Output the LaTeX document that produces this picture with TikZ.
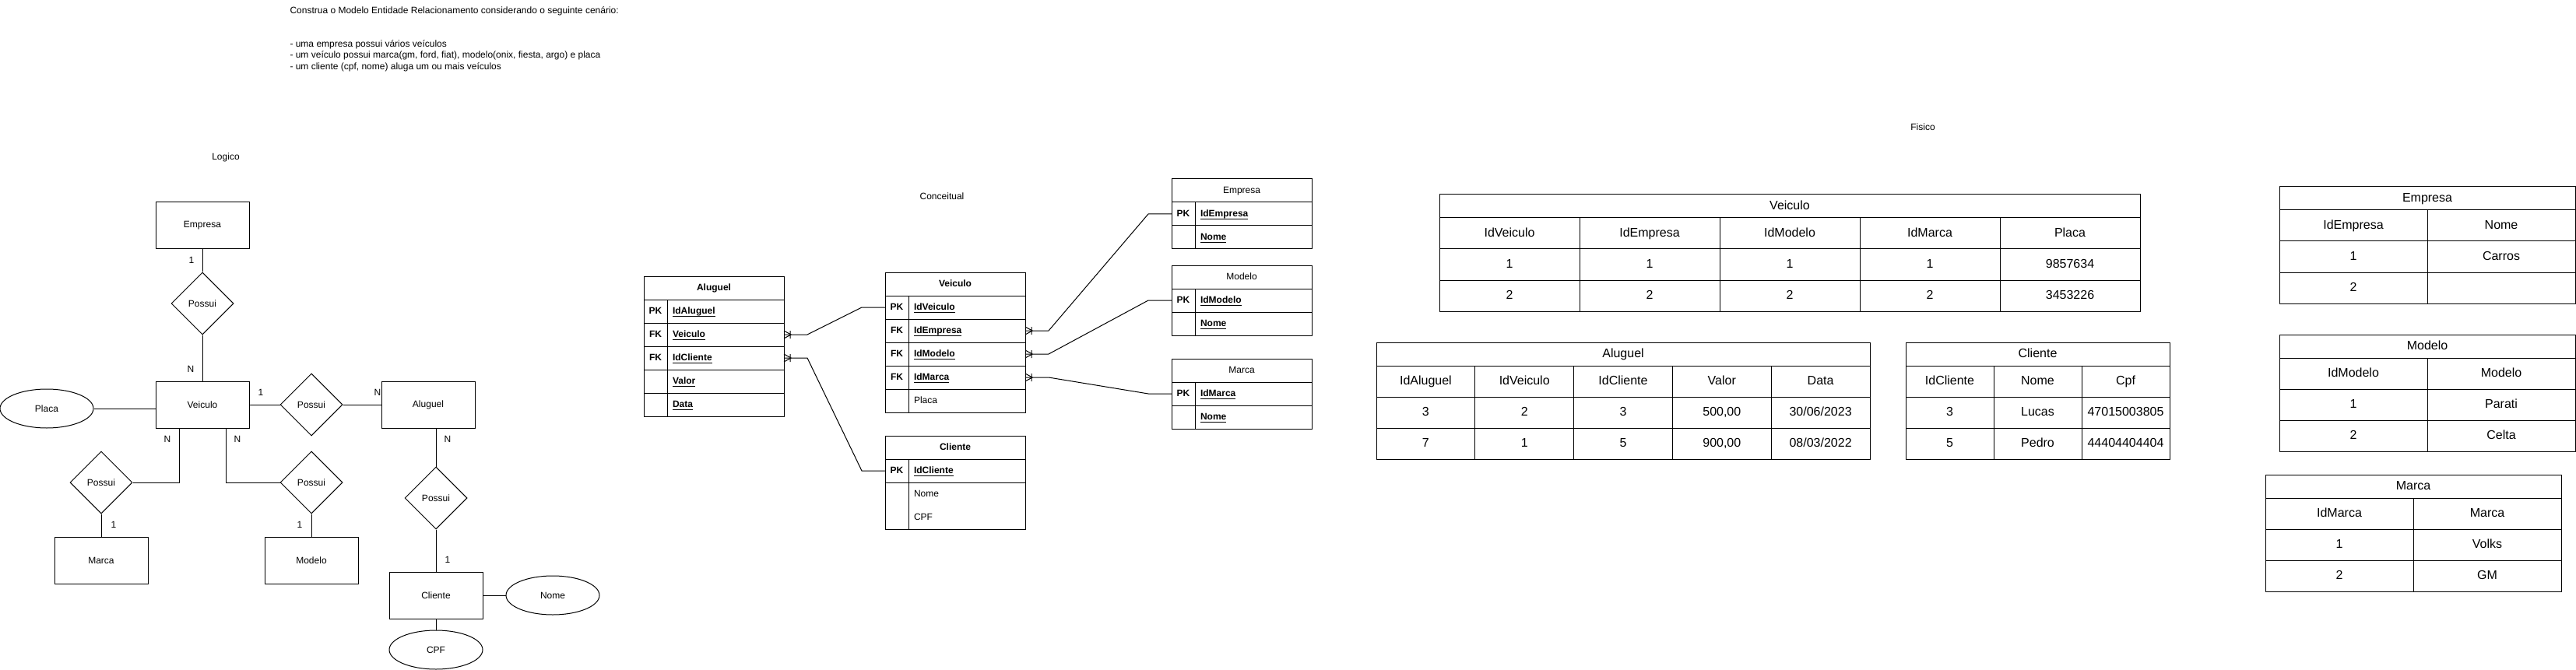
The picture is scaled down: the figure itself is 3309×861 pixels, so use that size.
\documentclass[tikz,border=0pt]{standalone}
\usepackage{fontspec}
\setmainfont{Liberation Sans}
\usetikzlibrary{shapes.geometric,positioning}

\newcommand\erfont{\fontsize{6}{7.2}\selectfont}
\newcommand\tabfont{\fontsize{8}{9.6}\selectfont}
\newcommand\ulkey[1]{\underline{\smash{#1}}}

\begin{document}
\begin{tikzpicture}[
x=0.5pt, y=-0.5pt, line width=0.5pt,
  entity/.style = {rectangle, draw, minimum width=60pt, minimum height=30pt,
                   font=\erfont},% entities of the logical model
     rel/.style = {diamond, draw, aspect=1, minimum width=40pt,
                   minimum height=40pt, inner sep=0pt, font=\erfont},
    attr/.style = {ellipse, draw, minimum width=60pt, minimum height=25pt,
                   font=\erfont},
    card/.style = {font=\erfont, inner sep=0pt},
    note/.style = {font=\erfont, inner sep=0pt},
    cell/.style = {rectangle, draw, anchor=north west, minimum height=15pt,
                   text height=4.4pt, text depth=1.2pt,
                   inner sep=0pt, outer sep=0pt, font=\erfont},% cells of the tables
   thead/.style = {cell, minimum width=90pt},
    tkey/.style = {cell, minimum width=15pt, font=\erfont\bfseries},
  tfield/.style = {cell, text width=68pt, inner xsep=3.5pt, align=left},
   pcell/.style = {rectangle, draw, anchor=north west, minimum height=20pt,
                   text height=5.8pt, text depth=1.6pt,
                   inner sep=0pt, outer sep=0pt, font=\tabfont},
   phead/.style = {pcell, minimum height=15pt},
crowfoot/.pic = {\draw (0,-5) -- (9,0) -- (0,5) (8,-5) -- (8,5);},
                        ]
\useasboundingbox (0,0) rectangle (3309,861);
\node[note, anchor=north west, align=left] (enunciado) at (372,8)
  {Construa o Modelo Entidade Relacionamento considerando o seguinte cenário:\\[14.4pt]
   - uma empresa possui vários veículos\\
   - um veículo possui marca(gm, ford, fiat), modelo(onix, fiesta, argo) e placa\\
   - um cliente (cpf, nome) aluga um ou mais veículos};

% Logico
\node[note] (logico) at (290,202) {Logico};
\node[entity] (empresa) at (260,290) {Empresa};
\node[rel]    (possui1) at (260,390) {Possui};
\node[entity] (veiculo) at (260,520) {Veiculo};
\node[attr]   (placa)   at (60,525)  {Placa};
\node[rel]    (possui2) at (400,520) {Possui};
\node[entity] (aluguel) at (550,520) {Aluguel};
\node[rel]    (possui3) at (130,620) {Possui};
\node[rel]    (possui4) at (400,620) {Possui};
\node[entity] (marca)   at (130,720) {Marca};
\node[entity] (modelo)  at (400,720) {Modelo};
\node[rel]    (possui5) at (560,640) {Possui};
\node[entity] (cliente) at (560,765) {Cliente};
\node[attr]   (nome)    at (710,765) {Nome};
\node[attr]   (cpf)     at (560,835) {CPF};
\draw (empresa) -- (possui1) -- (veiculo);
\draw (placa.east) -- (placa.east -| veiculo.west);
\draw (veiculo) -- (possui2) -- (aluguel);
\draw ([xshift=-15pt]veiculo.south) |- (possui3.east);
\draw ([xshift=15pt]veiculo.south) |- (possui4.west);
\draw (possui3) -- (marca);
\draw (possui4) -- (modelo);
\draw (possui5.north) -- (possui5.north |- aluguel.south);
\draw (possui5) -- (cliente);
\draw (cliente) -- (nome);
\draw (cliente) -- (cpf);
\node[card] (c1)  at (246,334) {1};
\node[card] (c2)  at (245,474) {N};
\node[card] (c3)  at (335,504) {1};
\node[card] (c4)  at (485,504) {N};
\node[card] (c5)  at (215,564) {N};
\node[card] (c6)  at (305,564) {N};
\node[card] (c7)  at (146,674) {1};
\node[card] (c8)  at (385,674) {1};
\node[card] (c9)  at (575,564) {N};
\node[card] (c10) at (575,719) {1};

% Conceitual
\node[note] (conceitual) at (1210,252) {Conceitual};
\node[thead, font=\erfont\bfseries] (alu) at (827,355) {Aluguel};
\foreach \k/\f [count=\i] in {PK/IdAluguel,FK/Veiculo,FK/IdCliente,/Valor,/Data}{
  \node[tkey] (alu-k\i) at (827,{355+30*\i}) {\k};
  \node[tfield, font=\erfont\bfseries] (alu-\i) at (857,{355+30*\i}) {\ulkey{\f}};
}
\node[thead, font=\erfont\bfseries] (vei) at (1137,350) {Veiculo};
\foreach \k/\f [count=\i] in {PK/IdVeiculo,FK/IdEmpresa,FK/IdModelo,FK/IdMarca}{
  \node[tkey] (vei-k\i) at (1137,{350+30*\i}) {\k};
  \node[tfield, font=\erfont\bfseries] (vei-\i) at (1167,{350+30*\i}) {\ulkey{\f}};
}
\node[tkey] (vei-k5) at (1137,500) {};
\node[tfield] (vei-5) at (1167,500) {Placa};
\node[thead, font=\erfont\bfseries] (cli) at (1137,560) {Cliente};
\node[tkey] (cli-k1) at (1137,590) {PK};
\node[tfield, font=\erfont\bfseries] (cli-1) at (1167,590) {\ulkey{IdCliente}};
\node[tkey, minimum height=30pt] (cli-k2) at (1137,620) {};
\node[tfield, draw=none] (cli-2) at (1167,620) {Nome};
\node[tfield, draw=none] (cli-3) at (1167,650) {CPF};
\draw (cli-2.north west) rectangle (cli-3.south east);
\foreach \t/\n/\y in {emp/Empresa/230,mod/Modelo/341,mar/Marca/461}{
  \node[thead] (\t) at (1505,\y) {\n};
  \node[tkey] (\t-k1) at (1505,{\y+30}) {PK};
  \node[tfield, font=\erfont\bfseries] (\t-1) at (1535,{\y+30}) {\ulkey{Id\n}};
  \node[tkey] (\t-k2) at (1505,{\y+60}) {};
  \node[tfield, font=\erfont\bfseries] (\t-2) at (1535,{\y+60}) {\ulkey{Nome}};
}
\draw (vei-k1.west) -- ++(-30,0) -- ([xshift=15pt]alu-2.east) -- (alu-2.east);
\draw (cli-k1.west) -- ++(-30,0) -- ([xshift=15pt]alu-3.east) -- (alu-3.east);
\draw (emp-k1.west) -- ++(-30,0) -- ([xshift=15pt]vei-2.east) -- (vei-2.east);
\draw (mod-k1.west) -- ++(-30,0) -- ([xshift=15pt]vei-3.east) -- (vei-3.east);
\draw (mar-k1.west) -- ++(-30,0) -- ([xshift=15pt]vei-4.east) -- (vei-4.east);
\foreach \n in {alu-2,alu-3,vei-2,vei-3,vei-4}
  \path (\n.east) pic {crowfoot};

% Fisico
\node[note] (fisico) at (2470,163) {Fisico};
\node[phead, minimum width=450pt] (pvei) at (1849,250) {Veiculo};
\foreach \row [count=\r] in {{IdVeiculo,IdEmpresa,IdModelo,IdMarca,Placa},
                             {1,1,1,1,9857634},{2,2,2,2,3453226}}{
  \foreach \val [count=\c] in \row
    \node[pcell, minimum width=90pt] (pvei-\r-\c) at ({1849+180*(\c-1)},{240+40*\r}) {\val};
}
\node[phead, minimum width=317pt] (palu) at (1768,440) {Aluguel};
\foreach \row [count=\r] in {{IdAluguel,IdVeiculo,IdCliente,Valor,Data},
                             {3,2,3,{500,00},30/06/2023},{7,1,5,{900,00},08/03/2022}}{
  \foreach \val [count=\c] in \row
    \node[pcell, minimum width=63.4pt] (palu-\r-\c) at ({1768+126.8*(\c-1)},{430+40*\r}) {\val};
}
\node[phead, minimum width=169.5pt] (pcli) at (2448,440) {Cliente};
\foreach \row [count=\r] in {{IdCliente,Nome,Cpf},{3,Lucas,47015003805},{5,Pedro,44404404404}}{
  \foreach \val [count=\c] in \row
    \node[pcell, minimum width=56.5pt] (pcli-\r-\c) at ({2448+113*(\c-1)},{430+40*\r}) {\val};
}
\node[phead, minimum width=190pt] (pemp) at (2928,240) {Empresa};
\foreach \row [count=\r] in {{IdEmpresa,Nome},{1,Carros},{2,{}}}{
  \foreach \val [count=\c] in \row
    \node[pcell, minimum width=95pt] (pemp-\r-\c) at ({2928+190*(\c-1)},{230+40*\r}) {\val};
}
\node[phead, minimum width=190pt] (pmod) at (2928,430) {Modelo};
\foreach \row [count=\r] in {{IdModelo,Modelo},{1,Parati},{2,Celta}}{
  \foreach \val [count=\c] in \row
    \node[pcell, minimum width=95pt] (pmod-\r-\c) at ({2928+190*(\c-1)},{420+40*\r}) {\val};
}
\node[phead, minimum width=190pt] (pmar) at (2910,610) {Marca};
\foreach \row [count=\r] in {{IdMarca,Marca},{1,Volks},{2,GM}}{
  \foreach \val [count=\c] in \row
    \node[pcell, minimum width=95pt] (pmar-\r-\c) at ({2910+190*(\c-1)},{600+40*\r}) {\val};
}
\end{tikzpicture}
\end{document}
